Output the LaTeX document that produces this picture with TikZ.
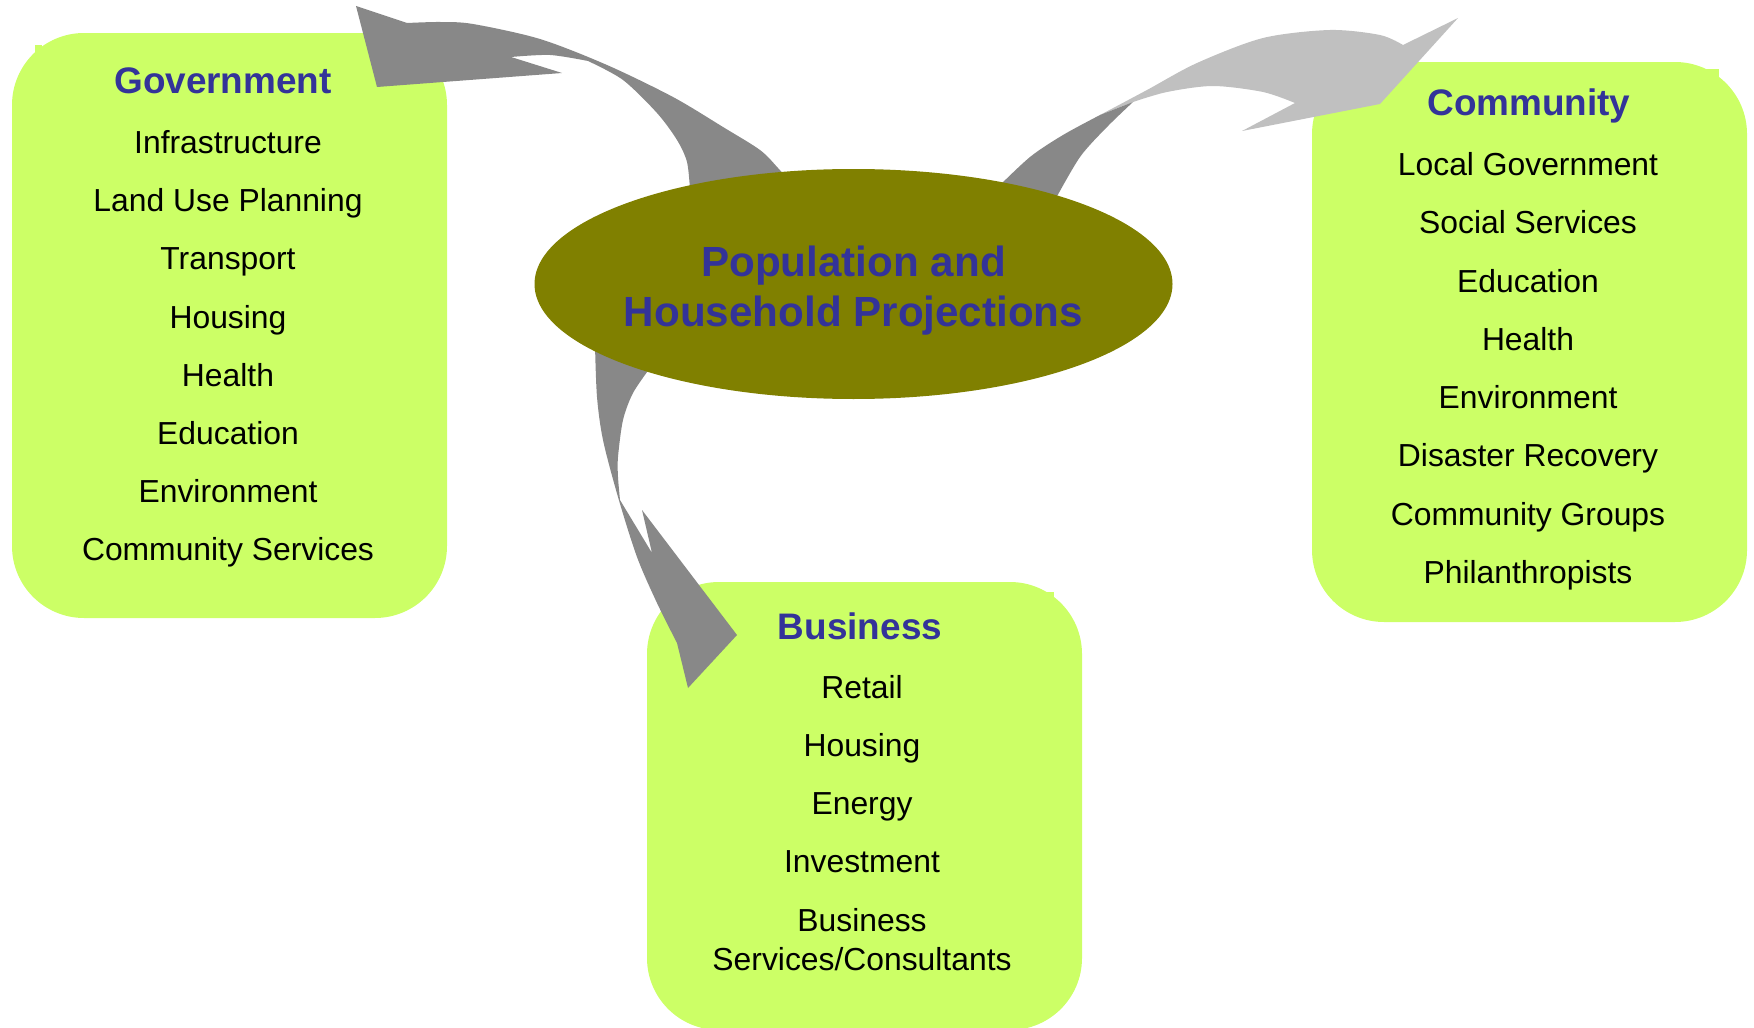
\documentclass[tikz,border=0pt]{standalone}
\usepackage{fontspec}
\setmainfont{Liberation Sans}
\usetikzlibrary{shapes.geometric}

\definecolor{boxgreen}{HTML}{CCFF66}
\definecolor{titleblue}{HTML}{333399}
\definecolor{centreolive}{HTML}{808000}
\definecolor{arrowgrey}{HTML}{888888}
\definecolor{arrowlight}{HTML}{C0C0C0}

\tikzset{
  groupbox/.style={fill=boxgreen, rounded corners=7.2mm, inner sep=0pt, minimum width=43.5mm},
  grouptitle/.style={anchor=base, text=titleblue, font=\fontsize{10.5}{12.6}\selectfont\bfseries},
  itemtext/.style={anchor=base, font=\fontsize{9.06}{10.95}\selectfont},
  centre/.style={ellipse, fill=centreolive, minimum width=63.8mm, minimum height=23mm, inner sep=0pt},
  centretext/.style={align=center, text=titleblue, font=\fontsize{12}{14.2}\selectfont\bfseries}
}

\begin{document}
\begin{tikzpicture}[x=0.1mm, y=-0.1mm]
    \useasboundingbox (0,0) rectangle (1754,1027);

    % the three groups
    \node[groupbox, minimum height=58.5mm] (govbox) at (229.5,325.5) {};
    \node[groupbox, minimum height=56mm] (combox) at (1529.5,342) {};
    \node[groupbox, minimum height=44.8mm] (busbox) at (864.5,806) {};
    \fill[boxgreen] (35,45) rectangle (42,52);
    \fill[boxgreen] (1705,69) rectangle (1719,80);
    \fill[boxgreen] (1043,592) rectangle (1054,600);

    % arrow to Government
    \fill[arrowgrey] plot[smooth] coordinates {(790,182) (778,168) (760,150) (723,127) (673,97) (607,65) (540,39) (473,24) (440,22) (407,23)}
        -- (356,6) -- (377,87) -- (562,73) -- (511,57)
        -- plot[smooth] coordinates {(511,57) (550,55) (588,61)}
        -- plot[smooth] coordinates {(588,61) (623,80) (657,113) (677,140) (687,162) (690,190)} -- cycle;

    % arrow to Community
    \fill[arrowlight] plot[smooth] coordinates {(1100,115) (1147,90) (1197,63) (1263,38) (1330,30) (1380,35) (1403,45)}
        -- (1458,18) -- (1380,104) -- (1242,131) -- (1295,103)
        -- plot[smooth] coordinates {(1295,103) (1263,92) (1213,86) (1167,92) (1133,102)} -- cycle;
    \fill[arrowgrey] plot[smooth] coordinates {(1100,115) (1063,135) (1030,157) (995,190)}
        -- plot[smooth] coordinates {(1055,200) (1080,157) (1107,127) (1133,102)} -- cycle;

    % arrow to Business
    \fill[arrowgrey] plot[smooth] coordinates {(595,345) (597,397) (603,440) (618,497) (637,557) (657,603) (677,643)}
        -- (688,688) -- (737,635) -- (642,510) -- (652,553) -- (620,500)
        -- plot[smooth] coordinates {(620,500) (618,477) (618,457) (623,420) (633,393) (650,368)} -- cycle;

    % centre
    \node[centre] (pop) at (853.5,284) {};
    \node[centretext] (poptext) at (853.5,291) {Population and\\Household Projections};

    \node[grouptitle] (govtitle) at (223,94) {Government};
    \foreach \lbl [count=\i from 0] in {Infrastructure, Land Use Planning, Transport, Housing, Health, Education, Environment, Community Services}
        \node[itemtext] (gov\i) at (228,{153.5+58.2*\i}) {\lbl};

    \node[grouptitle] (comtitle) at (1529,116) {Community};
    \foreach \lbl [count=\i from 0] in {Local Government, Social Services, Education, Health, Environment, Disaster Recovery, Community Groups, Philanthropists}
        \node[itemtext] (com\i) at (1528,{175.8+58.2*\i}) {\lbl};

    \node[grouptitle] (bustitle) at (860,639) {Business};
    \foreach \lbl [count=\i from 0] in {Retail, Housing, Energy, Investment}
        \node[itemtext] (bus\i) at (862,{698.2+58.2*\i}) {\lbl};
    \node[itemtext, anchor=center, align=center] (bus4) at (862,939.7) {Business\\Services/Consultants};
\end{tikzpicture}
\end{document}
